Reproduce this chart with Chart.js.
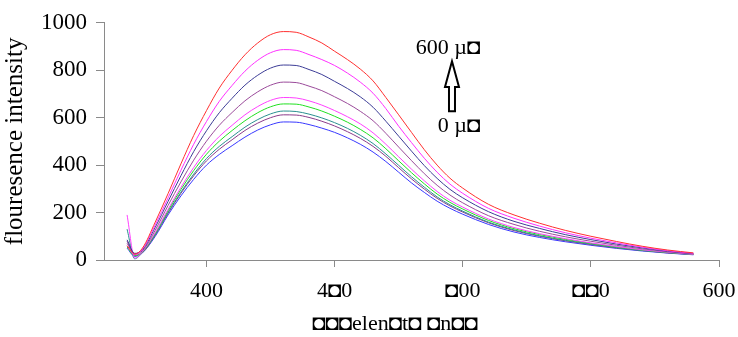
<!DOCTYPE html>
<html>
<head>
<meta charset="utf-8">
<script src="https://cdn.jsdelivr.net/npm/chart.js@4.4.0/dist/chart.umd.min.js"></script>
<style>
  html, body { margin: 0; padding: 0; background: #fff; }
</style>
</head>
<body>
<canvas id="chart" width="738" height="337"></canvas>
<script>
// wavelength (nm) of each sample
const wavelengths = [369, 372, 375, 380, 385, 390, 395, 400, 405, 410, 415, 420, 425, 430, 435, 440, 445, 450, 455, 460, 465, 470, 475, 480, 485, 490, 495, 500, 510, 520, 530, 540, 550, 560, 570, 580, 590];

// intensity, from 600 uM (top) down to 0 uM (bottom)
const redValues = [60, 25, 50, 160, 280, 405, 525, 630, 725, 800, 865, 915, 950, 963, 960, 940, 915, 880, 845, 805, 755, 685, 612, 538, 465, 400, 345, 303, 235, 190, 155, 125, 100, 78, 58, 42, 30];
const magentaValues = [60, 22, 46, 148, 262, 378, 488, 584, 669, 736, 796, 842, 874, 887, 884, 866, 845, 820, 788, 750, 703, 638, 564, 495, 429, 370, 320, 281, 218, 176, 143, 115, 92, 72, 54, 39, 28];
const slateValues = [85, 28, 43, 138, 247, 355, 457, 545, 621, 682, 737, 779, 809, 822, 820, 803, 782, 753, 723, 688, 644, 585, 522, 459, 398, 344, 298, 262, 204, 163, 133, 107, 86, 67, 51, 37, 27];
const mauveValues = [70, 25, 39, 126, 230, 329, 421, 501, 568, 622, 671, 709, 737, 750, 748, 733, 714, 688, 660, 627, 587, 534, 476, 419, 364, 315, 274, 241, 187, 150, 121, 98, 79, 62, 47, 35, 26];
const pinkValues = [190, 8, 35, 116, 214, 306, 390, 462, 521, 568, 612, 647, 673, 685, 683, 671, 653, 630, 604, 574, 536, 488, 435, 383, 334, 289, 252, 223, 173, 137, 111, 90, 72, 57, 43, 33, 24];
const greenValues = [55, 18, 34, 112, 208, 297, 377, 446, 501, 546, 587, 621, 646, 658, 657, 645, 628, 606, 581, 551, 515, 469, 418, 368, 321, 278, 243, 215, 167, 132, 107, 87, 70, 55, 42, 32, 24];
const tealValues = [130, 5, 32, 107, 201, 286, 362, 428, 479, 520, 560, 592, 616, 628, 626, 615, 599, 579, 555, 526, 491, 447, 399, 351, 307, 266, 233, 206, 160, 127, 102, 83, 67, 52, 40, 31, 23];
const purpleValues = [80, 20, 31, 105, 197, 281, 355, 418, 467, 507, 546, 577, 600, 612, 611, 601, 585, 565, 541, 513, 479, 437, 389, 342, 299, 260, 228, 202, 157, 124, 100, 81, 65, 51, 40, 30, 23];
const blueValues = [50, 15, 30, 100, 190, 270, 340, 400, 445, 482, 518, 548, 570, 582, 581, 571, 556, 538, 515, 488, 455, 415, 370, 325, 285, 248, 218, 193, 150, 118, 95, 77, 62, 49, 38, 29, 22];

const xTickValues = [400, 450, 500, 550, 600];
const xTickLabels = ["400", "4\u25D80", "\u25D800", "\u25D8\u25D80", "600"];
const xTitle = "\u25D8\u25D8\u25D8elen\u25D8t\u25D8 \u25D8n\u25D8\u25D8\u2002\u2002\u2002";
const yTitle = "flouresence intensity";
const topLabel = "600 \u00B5\u25D8";
const bottomLabel = "0 \u00B5\u25D8";

const series = [
  { values: redValues, color: "#ff3030" },
  { values: magentaValues, color: "#ff30ff" },
  { values: slateValues, color: "#3c3c96" },
  { values: mauveValues, color: "#9a4a9a" },
  { values: pinkValues, color: "#ff40ff" },
  { values: greenValues, color: "#20e020" },
  { values: tealValues, color: "#2a9090" },
  { values: purpleValues, color: "#8a3a8a" },
  { values: blueValues, color: "#3838ff" }
];

const serif = "'Liberation Serif', 'Times New Roman', serif";
const axisGrey = "#8a8a8a";

// hollow arrow and the two concentration labels, placed in data units
const arrowNote = {
  draw(chart) {
    const { ctx, scales: { x, y } } = chart;
    const cx = x.getPixelForValue(495.8);
    const tip = y.getPixelForValue(838);
    const headBase = y.getPixelForValue(729);
    const foot = y.getPixelForValue(627);
    ctx.save();
    ctx.strokeStyle = "#000";
    ctx.lineWidth = 2;
    ctx.fillStyle = "#fff";
    ctx.beginPath();
    ctx.moveTo(cx, tip);
    ctx.lineTo(cx + 7, headBase);
    ctx.lineTo(cx + 3, headBase);
    ctx.lineTo(cx + 3, foot);
    ctx.lineTo(cx - 3, foot);
    ctx.lineTo(cx - 3, headBase);
    ctx.lineTo(cx - 7, headBase);
    ctx.closePath();
    ctx.fill();
    ctx.stroke();

    ctx.fillStyle = "#000";
    ctx.font = "22px " + serif;
    ctx.textAlign = "right";
    ctx.textBaseline = "alphabetic";
    const right = x.getPixelForValue(506.8);
    ctx.fillText(topLabel, right, y.getPixelForValue(870));
    ctx.fillText(bottomLabel, right, y.getPixelForValue(540));
    ctx.restore();
  }
};

new Chart(document.getElementById("chart"), {
  type: "line",
  data: {
    datasets: series.map(s => ({
      data: s.values.map((v, i) => ({ x: wavelengths[i], y: v })),
      borderColor: s.color,
      borderWidth: 1,
      pointRadius: 0,
      fill: false,
      cubicInterpolationMode: "monotone"
    }))
  },
  options: {
    responsive: false,
    animation: false,
    layout: { padding: { top: 13, right: 19, left: 0, bottom: 0 } },
    plugins: { legend: { display: false }, tooltip: { enabled: false } },
    scales: {
      x: {
        type: "linear",
        min: 360,
        max: 600,
        afterBuildTicks: scale => {
          scale.ticks = xTickValues.map(v => ({ value: v }));
        },
        afterFit: scale => { scale.height = 77; },
        ticks: {
          color: "#000",
          font: { family: serif, size: 22, lineHeight: 2 },
          padding: 2,
          maxRotation: 0,
          callback: (value) => xTickLabels[xTickValues.indexOf(value)]
        },
        grid: { drawOnChartArea: false, drawTicks: true, tickLength: 7, color: axisGrey },
        border: { display: true, color: axisGrey },
        title: {
          display: true,
          text: xTitle,
          color: "#000",
          font: { family: serif, size: 22 },
          padding: { top: 0, bottom: 0 }
        }
      },
      y: {
        min: 0,
        max: 1000,
        afterFit: scale => { scale.width = 104; },
        ticks: {
          stepSize: 200,
          color: "#000",
          font: { family: serif, size: 23 },
          padding: 9,
          callback: value => String(value)
        },
        grid: { drawOnChartArea: false, drawTicks: true, tickLength: 8, color: axisGrey },
        border: { display: true, color: axisGrey },
        title: {
          display: true,
          text: yTitle,
          color: "#000",
          font: { family: serif, size: 25 },
          padding: { top: 0, bottom: 0 }
        }
      }
    }
  },
  plugins: [{ id: "arrowNote", afterDatasetsDraw: chart => arrowNote.draw(chart) }]
});
</script>
</body>
</html>
